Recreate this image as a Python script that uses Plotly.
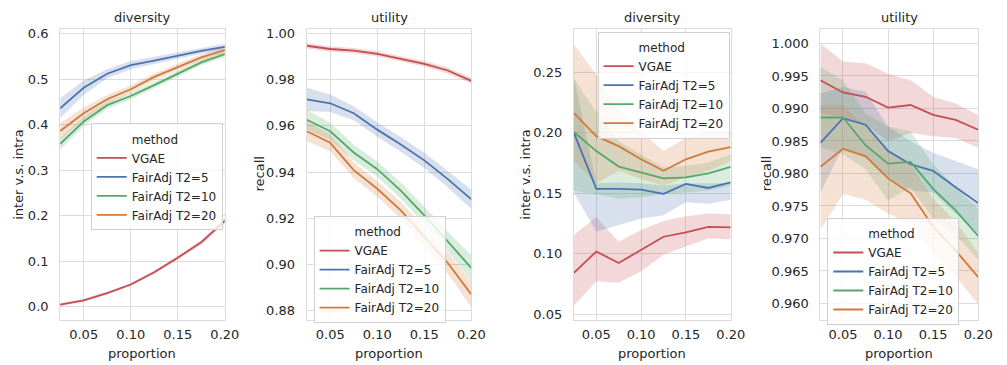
import plotly.graph_objects as go

proportion = [0.025, 0.05, 0.075, 0.1, 0.125, 0.15, 0.175, 0.2]
legend_title = "method"
methods = ["VGAE", "FairAdj T2=5", "FairAdj T2=10", "FairAdj T2=20"]
colors = ["#C44E52", "#4C72B0", "#55A868", "#D07A3C"]
fills = ["rgba(196,78,82,0.22)", "rgba(76,114,176,0.22)", "rgba(85,168,104,0.22)", "rgba(208,122,60,0.22)"]

# Panel 1: diversity (dataset A)
divA_mean = [
    [0.005, 0.014, 0.030, 0.049, 0.076, 0.108, 0.142, 0.189],
    [0.436, 0.481, 0.512, 0.531, 0.541, 0.552, 0.562, 0.571],
    [0.358, 0.407, 0.443, 0.463, 0.487, 0.512, 0.537, 0.555],
    [0.386, 0.425, 0.456, 0.478, 0.505, 0.527, 0.548, 0.564],
]
divA_lo = [
    [0.002, 0.011, 0.027, 0.046, 0.072, 0.104, 0.137, 0.183],
    [0.414, 0.465, 0.502, 0.522, 0.533, 0.545, 0.556, 0.564],
    [0.345, 0.397, 0.435, 0.456, 0.480, 0.505, 0.531, 0.548],
    [0.368, 0.412, 0.447, 0.470, 0.497, 0.520, 0.541, 0.557],
]
divA_hi = [
    [0.008, 0.017, 0.033, 0.052, 0.080, 0.112, 0.147, 0.195],
    [0.458, 0.497, 0.522, 0.540, 0.549, 0.559, 0.568, 0.578],
    [0.371, 0.417, 0.451, 0.470, 0.494, 0.519, 0.543, 0.562],
    [0.404, 0.438, 0.465, 0.486, 0.513, 0.534, 0.555, 0.571],
]

# Panel 2: utility (dataset A)
utilA_mean = [
    [0.9947, 0.9933, 0.9926, 0.9912, 0.9890, 0.9869, 0.9840, 0.9795],
    [0.9715, 0.9698, 0.9655, 0.9584, 0.9520, 0.9451, 0.9370, 0.9282],
    [0.9627, 0.9577, 0.9485, 0.9413, 0.9320, 0.9213, 0.9100, 0.8985],
    [0.9577, 0.9527, 0.9409, 0.9328, 0.9235, 0.9120, 0.9007, 0.8871],
]
utilA_lo = [
    [0.9935, 0.9922, 0.9915, 0.9900, 0.9878, 0.9857, 0.9827, 0.9782],
    [0.9665, 0.9660, 0.9625, 0.9553, 0.9488, 0.9418, 0.9335, 0.9240],
    [0.9585, 0.9540, 0.9450, 0.9380, 0.9285, 0.9175, 0.9058, 0.8930],
    [0.9535, 0.9490, 0.9375, 0.9295, 0.9198, 0.9080, 0.8960, 0.8815],
]
utilA_hi = [
    [0.9959, 0.9944, 0.9937, 0.9924, 0.9902, 0.9881, 0.9853, 0.9808],
    [0.9765, 0.9736, 0.9685, 0.9615, 0.9552, 0.9484, 0.9405, 0.9324],
    [0.9669, 0.9614, 0.9520, 0.9446, 0.9355, 0.9251, 0.9142, 0.9040],
    [0.9619, 0.9564, 0.9443, 0.9361, 0.9272, 0.9160, 0.9054, 0.8927],
]

# Panel 3: diversity (dataset B)
divB_mean = [
    [0.084, 0.1017, 0.0922, 0.103, 0.1139, 0.1175, 0.122, 0.1216],
    [0.1997, 0.1534, 0.1534, 0.1529, 0.1494, 0.1575, 0.1542, 0.1588],
    [0.2005, 0.1847, 0.1719, 0.167, 0.1621, 0.1629, 0.1662, 0.1716],
    [0.216, 0.197, 0.1888, 0.1779, 0.1684, 0.1779, 0.1842, 0.188],
]
divB_lo = [
    [0.0568, 0.0772, 0.0759, 0.0854, 0.099, 0.1058, 0.1124, 0.1118],
    [0.150, 0.118, 0.1235, 0.129, 0.1316, 0.1425, 0.1412, 0.1444],
    [0.152, 0.149, 0.1452, 0.1466, 0.149, 0.1507, 0.152, 0.156],
    [0.1765, 0.158, 0.1684, 0.1616, 0.156, 0.163, 0.1684, 0.1765],
]
divB_hi = [
    [0.1153, 0.1302, 0.1098, 0.1194, 0.127, 0.1308, 0.133, 0.1324],
    [0.245, 0.158, 0.1588, 0.158, 0.156, 0.158, 0.158, 0.158],
    [0.2446, 0.2173, 0.1929, 0.182, 0.1711, 0.1724, 0.1752, 0.182],
    [0.2731, 0.2478, 0.220, 0.201, 0.1847, 0.1956, 0.201, 0.201],
]

# Panel 4: utility (dataset B)
utilB_mean = [
    [0.99433, 0.99246, 0.9918, 0.99013, 0.99053, 0.98901, 0.98825, 0.98673],
    [0.98471, 0.98851, 0.9875, 0.98344, 0.98142, 0.98041, 0.97787, 0.97544],
    [0.98861, 0.98861, 0.98435, 0.98152, 0.98177, 0.97762, 0.97433, 0.97038],
    [0.98101, 0.9838, 0.98268, 0.97924, 0.97696, 0.9718, 0.96815, 0.96405],
]
utilB_lo = [
    [0.98927, 0.98876, 0.9875, 0.98496, 0.98623, 0.98572, 0.98547, 0.98395],
    [0.97711, 0.98395, 0.98243, 0.9794, 0.97737, 0.97711, 0.97382, 0.97078],
    [0.98395, 0.98294, 0.98066, 0.97585, 0.97787, 0.97306, 0.97053, 0.96673],
    [0.97129, 0.97686, 0.97595, 0.97382, 0.97235, 0.96775, 0.9642, 0.9599],
]
utilB_hi = [
    [1.0, 0.99722, 0.99696, 0.99534, 0.99433, 0.9918, 0.99078, 0.98901],
    [0.9923, 0.99332, 0.99256, 0.98724, 0.98496, 0.98319, 0.98192, 0.98066],
    [0.99635, 0.99433, 0.98927, 0.98724, 0.98648, 0.98142, 0.97787, 0.97458],
    [0.99053, 0.99053, 0.98724, 0.9837, 0.98142, 0.97611, 0.97256, 0.96775],
]

titles = ["diversity", "utility", "diversity", "utility"]
ylabels = ["inter v.s. intra", "recall", "inter v.s. intra", "recall"]
xlabel = "proportion"
x_ticks = [0.05, 0.10, 0.15, 0.20]
y_ticks = [
    [0.0, 0.1, 0.2, 0.3, 0.4, 0.5, 0.6],
    [0.88, 0.90, 0.92, 0.94, 0.96, 0.98, 1.00],
    [0.05, 0.10, 0.15, 0.20, 0.25],
    [0.960, 0.965, 0.970, 0.975, 0.980, 0.985, 0.990, 0.995, 1.000],
]
y_fmt = [".1f", ".2f", ".2f", ".3f"]
y_ranges = [[-0.028, 0.611], [0.8762, 1.0021], [0.0454, 0.2859], [0.95752, 1.00228]]

W, H = 1007, 365
panel_px = [(61, 228), (311, 478), (582, 741), (832, 992)]
ylabel_px = [18, 263, 533, 777]
legend_px = [(92, 122), (318, 216), (606, 29), (839, 218)]
top_px, bot_px = 26, 321

panels = [
    (divA_mean, divA_lo, divA_hi),
    (utilA_mean, utilA_lo, utilA_hi),
    (divB_mean, divB_lo, divB_hi),
    (utilB_mean, utilB_lo, utilB_hi),
]

FONT = "DejaVu Sans"
TXT = "#262626"
GRID = "#dcdcdc"

fig = go.Figure()
annotations = []
for p, (means, los, his) in enumerate(panels):
    xa = "x" if p == 0 else f"x{p+1}"
    ya = "y" if p == 0 else f"y{p+1}"
    leg = "legend" if p == 0 else f"legend{p+1}"
    for i in range(4):
        fig.add_trace(go.Scatter(
            x=proportion + proportion[::-1],
            y=his[i] + los[i][::-1],
            fill="toself", fillcolor=fills[i], line=dict(width=0),
            mode="lines", hoverinfo="skip", showlegend=False,
            xaxis=xa, yaxis=ya,
        ))
    # seaborn-style legend header entry (no visible handle)
    fig.add_trace(go.Scatter(
        x=[None], y=[None], mode="lines", name=legend_title,
        line=dict(color="rgba(0,0,0,0)", width=1.8),
        xaxis=xa, yaxis=ya, legend=leg, showlegend=True, hoverinfo="skip",
    ))
    for i in range(4):
        fig.add_trace(go.Scatter(
            x=proportion, y=means[i], mode="lines", name=methods[i],
            line=dict(color=colors[i], width=1.8),
            xaxis=xa, yaxis=ya, legend=leg, showlegend=True,
        ))

layout = dict(
    width=W, height=H, margin=dict(l=0, r=0, t=0, b=0),
    paper_bgcolor="white", plot_bgcolor="white",
    font=dict(family=FONT, size=13, color=TXT),
)
for p in range(4):
    x0, x1 = panel_px[p]
    sfx = "" if p == 0 else str(p + 1)
    layout["xaxis" + sfx] = dict(
        domain=[x0 / W, x1 / W], anchor="y" + sfx, range=[0.025, 0.2],
        tickvals=x_ticks, tickformat=".2f", showgrid=True, gridcolor=GRID, gridwidth=1,
        showline=True, mirror=True, linecolor=GRID, linewidth=1, zeroline=False,
        ticks="outside", ticklen=3, tickcolor="rgba(0,0,0,0)",
        tickfont=dict(size=13, color=TXT),
    )
    layout["yaxis" + sfx] = dict(
        domain=[1 - bot_px / H, 1 - top_px / H], anchor="x" + sfx, range=y_ranges[p],
        tickvals=y_ticks[p], tickformat=y_fmt[p], showgrid=True, gridcolor=GRID, gridwidth=1,
        showline=True, mirror=True, linecolor=GRID, linewidth=1, zeroline=False,
        ticks="outside", ticklen=8, tickcolor="rgba(0,0,0,0)",
        tickfont=dict(size=13, color=TXT),
    )
    lx, ly = legend_px[p]
    layout["legend" if p == 0 else f"legend{p+1}"] = dict(
        x=lx / W, y=1 - ly / H, xanchor="left", yanchor="top", xref="paper", yref="paper",
        bgcolor="rgba(255,255,255,0.8)", bordercolor="#d0d0d0", borderwidth=1,
        font=dict(family=FONT, size=12, color=TXT),
        itemwidth=30, tracegroupgap=0,
    )
    annotations.append(dict(
        text=titles[p], x=(x0 + x1) / 2 / W, y=1 - 15 / H, xref="paper", yref="paper",
        xanchor="center", yanchor="middle", showarrow=False, font=dict(size=13, color=TXT),
    ))
    annotations.append(dict(
        text=xlabel, x=(x0 + x1) / 2 / W, y=1 - 355 / H, xref="paper", yref="paper",
        xanchor="center", yanchor="middle", showarrow=False, font=dict(size=13, color=TXT),
    ))
    annotations.append(dict(
        text=ylabels[p], x=ylabel_px[p] / W, y=1 - ((top_px + bot_px) / 2) / H,
        xref="paper", yref="paper", xanchor="center", yanchor="middle",
        textangle=-90, showarrow=False, font=dict(size=13, color=TXT),
    ))
layout["annotations"] = annotations
fig.update_layout(**layout)
fig.write_html("out.html")
